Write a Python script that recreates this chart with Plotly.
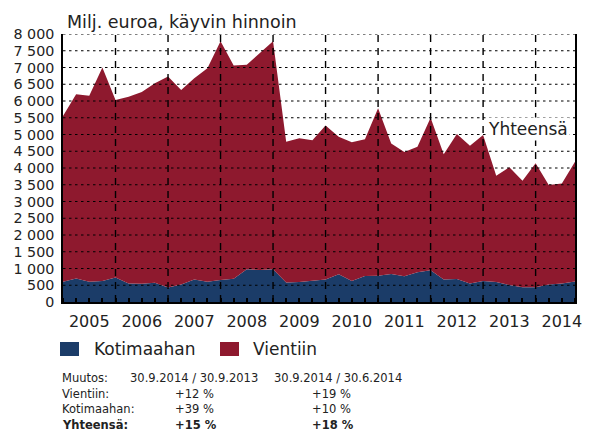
import plotly.graph_objects as go

# ---- data (quarter-end values, Q4 2004 ... Q3 2014), MEUR ----
quarters = [2005 + 0.25 * i for i in range(40)]
kotimaahan = [605, 705, 605, 625, 735, 555, 545, 575, 430, 525,
              675, 605, 655, 695, 975, 955, 975, 585, 595, 640,
              675, 825, 625, 775, 785, 835, 765, 885, 945, 675,
              685, 555, 625, 595, 505, 440, 440, 525, 555, 610]
vientiin = [4945, 5495, 5555, 6375, 5295, 5575, 5725, 5955, 6300, 5805,
            6005, 6370, 7125, 6365, 6110, 6465, 6805, 4200, 4290, 4190,
            4590, 4110, 4145, 4080, 4995, 3900, 3715, 3750, 4555, 3735,
            4330, 4110, 4360, 3175, 3515, 3180, 3700, 2965, 2985, 3580]
years = list(range(2005, 2015))
year_labels = [str(y) for y in years]
yticks = list(range(0, 8001, 500))

table_rows = [
    ("Muutos:", "30.9.2014 / 30.9.2013", "30.9.2014 / 30.6.2014", False),
    ("Vientiin:", "+12 %", "+19 %", False),
    ("Kotimaahan:", "+39 %", "+10 %", False),
    ("Yhteensä:", "+15 %", "+18 %", True),
]

BLUE = "#1b3c68"
RED = "#8e192e"
FONT = "DejaVu Sans"

W, H = 596, 433
L, R, T, B = 63, 575, 34, 302


def px(x):
    return (x - L) / (R - L)


def py(y):
    return (B - y) / (B - T)


fig = go.Figure()
fig.add_trace(go.Scatter(x=quarters, y=kotimaahan, name="Kotimaahan",
                         stackgroup="one", mode="lines",
                         line=dict(width=0, color=BLUE), fillcolor=BLUE))
fig.add_trace(go.Scatter(x=quarters, y=vientiin, name="Vientiin",
                         stackgroup="one", mode="lines",
                         line=dict(width=0, color=RED), fillcolor=RED))

shapes = []
# horizontal dotted grid, drawn above the areas
for v in yticks[1:]:
    shapes.append(dict(type="line", xref="paper", yref="y", x0=0, x1=1,
                       y0=v, y1=v, layer="above",
                       line=dict(color="black", width=1.2, dash="2.5px,3.5px")))
# vertical dashed year separators
for yr in years[1:]:
    shapes.append(dict(type="line", xref="x", yref="paper", x0=yr, x1=yr,
                       y0=0, y1=1, layer="above",
                       line=dict(color="black", width=1.4, dash="7px,6px")))
# legend squares
shapes.append(dict(type="rect", xref="paper", yref="paper",
                   x0=px(60), x1=px(79), y0=py(356), y1=py(342),
                   fillcolor=BLUE, line=dict(width=0)))
shapes.append(dict(type="rect", xref="paper", yref="paper",
                   x0=px(220), x1=px(239), y0=py(356), y1=py(342),
                   fillcolor=RED, line=dict(width=0)))

annotations = [
    dict(text="Milj. euroa, käyvin hinnoin", xref="paper", yref="paper",
         x=px(65), y=py(22), xanchor="left", yanchor="middle",
         showarrow=False, font=dict(size=17.5, color="#222")),
    dict(text="Yhteensä", xref="paper", yref="paper",
         x=px(528), y=py(129), xanchor="center", yanchor="middle",
         showarrow=False, bgcolor="white", borderpad=1,
         font=dict(size=17, color="#222")),
    dict(text="Kotimaahan", xref="paper", yref="paper",
         x=px(92), y=py(349), xanchor="left", yanchor="middle",
         showarrow=False, font=dict(size=17, color="#222")),
    dict(text="Vientiin", xref="paper", yref="paper",
         x=px(251), y=py(349), xanchor="left", yanchor="middle",
         showarrow=False, font=dict(size=17, color="#222")),
]
row_y = [378, 394, 409, 425]
for (lab, c1, c2, bold), yy in zip(table_rows, row_y):
    header = lab == "Muutos:"
    cols = [(lab, 60), (c1, 128 if header else 173), (c2, 272 if header else 310)]
    for txt, xx in cols:
        t = f"<b>{txt}</b>" if bold else txt
        annotations.append(dict(text=t, xref="paper", yref="paper",
                                x=px(xx), y=py(yy), xanchor="left",
                                yanchor="middle", showarrow=False,
                                font=dict(size=11.5, color="#222")))

fig.update_layout(
    width=W, height=H,
    margin=dict(l=L, r=W - R, t=T, b=H - B, pad=0),
    paper_bgcolor="white", plot_bgcolor="white",
    showlegend=False,
    font=dict(family=FONT, color="#222"),
    separators=", ",
    shapes=shapes,
    annotations=annotations,
    xaxis=dict(range=[2005, 2014.75], tickmode="array",
               tickvals=[y + 0.5 for y in years], ticktext=year_labels,
               ticks="", showgrid=False, zeroline=False,
               showline=True, linecolor="black", linewidth=2,
               tickfont=dict(size=16, color="#222"), ticklabelstandoff=4,
               minor=dict(tickmode="linear", tick0=2005, dtick=0.25,
                          ticks="inside", ticklen=4, tickwidth=1.5,
                          tickcolor="black", showgrid=False),
               layer="above traces", fixedrange=True),
    yaxis=dict(range=[0, 8000], tickmode="array", tickvals=yticks,
               separatethousands=True, tickformat=",d",
               ticks="", showgrid=False, zeroline=False,
               showline=True, linecolor="black", linewidth=1.5, mirror=True,
               tickfont=dict(size=14.3, color="#222"), ticklabelstandoff=4,
               layer="above traces", fixedrange=True),
)

fig.write_html("out.html", config={"displayModeBar": False},
               post_script="document.body.style.margin='0';"
                           "document.body.style.overflow='hidden';")
